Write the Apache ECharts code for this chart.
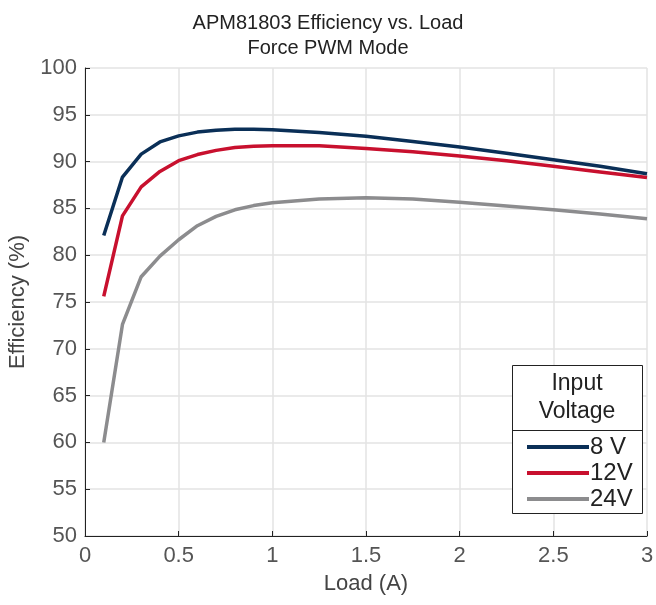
<!DOCTYPE html>
<html>
<head>
<meta charset="utf-8">
<script src="https://cdn.jsdelivr.net/npm/echarts@6/dist/echarts.min.js"></script>
<style>
  html, body { margin: 0; padding: 0; background: #fff; }
  #main { width: 656px; height: 605px; }
</style>
</head>
<body>
<div id="main"></div>
<script>
// load points (A)
const loads = [0.1, 0.2, 0.3, 0.4, 0.5, 0.6, 0.7, 0.8, 0.9, 1.0, 1.25, 1.5, 1.75, 2.0, 2.25, 2.5, 2.75, 3.0]
// efficiency (%) per input voltage
const eff8V = [82.1, 88.35, 90.8, 92.1, 92.75, 93.15, 93.35, 93.45, 93.45, 93.4, 93.1, 92.7, 92.15, 91.55, 90.9, 90.2, 89.5, 88.7]
const eff12V = [75.6, 84.2, 87.3, 88.95, 90.1, 90.75, 91.2, 91.5, 91.65, 91.7, 91.7, 91.4, 91.05, 90.6, 90.1, 89.5, 88.9, 88.3]
const eff24V = [60.0, 72.6, 77.7, 79.9, 81.65, 83.15, 84.15, 84.85, 85.3, 85.6, 86.0, 86.15, 86.0, 85.65, 85.25, 84.85, 84.4, 83.9]
const seriesNames = ['8 V', '12V', '24V']
const colors = ['#0a2f57', '#c8102e', '#8c8c8e']

const font = 'Liberation Sans, Arial, sans-serif'
const pair = (ys) => loads.map((x, i) => [x, ys[i]])

const chart = echarts.init(document.getElementById('main'), null, { renderer: 'canvas' })
const option = {
  animation: false,
  color: colors,
  title: {
    text: 'APM81803 Efficiency vs. Load\nForce PWM Mode',
    left: 'center',
    top: 6,
    textStyle: { fontFamily: font, fontWeight: 'normal', fontSize: 20, color: '#222', lineHeight: 25 }
  },
  grid: { left: 85, right: 9, top: 68, bottom: 69, containLabel: false, outerBoundsMode: 'none' },
  xAxis: {
    type: 'value',
    min: 0, max: 3, interval: 0.5,
    name: 'Load (A)',
    nameLocation: 'middle',
    nameGap: 37,
    nameTextStyle: { fontFamily: font, fontSize: 22, color: '#444' },
    axisLine: { show: true, lineStyle: { color: '#222', width: 1 } },
    axisTick: { show: true, inside: true, length: 5, lineStyle: { color: '#222' } },
    axisLabel: { fontFamily: font, fontSize: 22, color: '#555', margin: 9 },
    splitLine: { show: true, lineStyle: { color: '#e3e3e3', width: 1.5 } }
  },
  yAxis: {
    type: 'value',
    min: 50, max: 100, interval: 5,
    name: 'Efficiency (%)',
    nameLocation: 'middle',
    nameGap: 54,
    nameTextStyle: { fontFamily: font, fontSize: 22, color: '#444' },
    axisLine: { show: true, lineStyle: { color: '#222', width: 1 } },
    axisTick: { show: true, inside: true, length: 5, lineStyle: { color: '#222' } },
    axisLabel: { fontFamily: font, fontSize: 22, color: '#555', margin: 8 },
    splitLine: { show: true, lineStyle: { color: '#e3e3e3', width: 1.5 } }
  },
  legend: {
    z: 10,
    orient: 'vertical',
    left: 522,
    top: 430,
    itemWidth: 62,
    itemHeight: 4,
    itemGap: 2,
    icon: 'rect',
    data: seriesNames,
    textStyle: { fontFamily: font, fontSize: 24, color: '#222', padding: [0, 0, 0, -4] }
  },
  graphic: [
    {
      type: 'rect',
      shape: { x: 512.5, y: 365.5, width: 130, height: 148 },
      style: { fill: '#fff', stroke: '#222', lineWidth: 1 },
      z: 3
    },
    {
      type: 'line',
      shape: { x1: 512.5, y1: 430.5, x2: 642.5, y2: 430.5 },
      style: { stroke: '#222', lineWidth: 1 },
      z: 4
    },
    {
      type: 'text',
      x: 577, y: 370,
      style: { text: 'Input\nVoltage', fontFamily: font, fontSize: 23, lineHeight: 28, fill: '#222', align: 'center' },
      z: 4
    }
  ],
  series: [
    { name: seriesNames[0], type: 'line', data: pair(eff8V), showSymbol: false, lineStyle: { width: 3.5 }, z: 3 },
    { name: seriesNames[1], type: 'line', data: pair(eff12V), showSymbol: false, lineStyle: { width: 3.5 }, z: 2 },
    { name: seriesNames[2], type: 'line', data: pair(eff24V), showSymbol: false, lineStyle: { width: 3.5 }, z: 1 }
  ]
}
chart.setOption(option)
</script>
</body>
</html>
